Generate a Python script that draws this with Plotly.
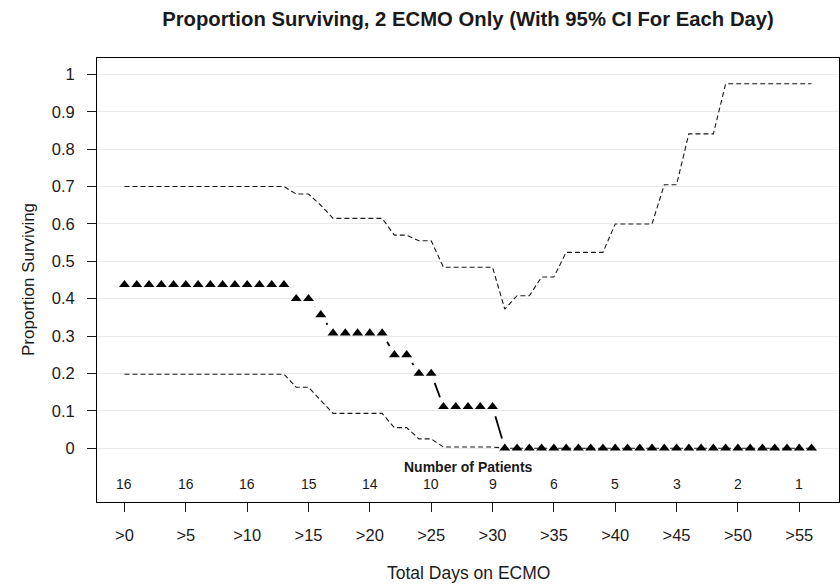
import math
import plotly.graph_objects as go

# Day index (days on ECMO) for each daily estimate
days = [
    0, 1, 2, 3, 4, 5, 6, 7, 8, 9, 10, 11, 12, 13, 14, 15, 16, 17, 18, 19,
    20, 21, 22, 23, 24, 25, 26, 27, 28, 29, 30, 31, 32, 33, 34, 35, 36, 37, 38, 39,
    40, 41, 42, 43, 44, 45, 46, 47, 48, 49, 50, 51, 52, 53, 54, 55, 56,
]

# Proportion surviving among patients still on ECMO at each day
surv_prop = [
    0.4375, 0.4375, 0.4375, 0.4375, 0.4375, 0.4375, 0.4375, 0.4375, 0.4375, 0.4375,
    0.4375, 0.4375, 0.4375, 0.4375, 0.400, 0.400, 0.357, 0.308, 0.308, 0.308,
    0.308, 0.308, 0.250, 0.250, 0.200, 0.200, 0.111, 0.111, 0.111, 0.111,
    0.111, 0.0, 0.0, 0.0, 0.0, 0.0, 0.0, 0.0, 0.0, 0.0,
    0.0, 0.0, 0.0, 0.0, 0.0, 0.0, 0.0, 0.0, 0.0, 0.0,
    0.0, 0.0, 0.0, 0.0, 0.0, 0.0, 0.0,
]

# Upper and lower 95% confidence limits for each day
ci_upper = [
    0.700, 0.700, 0.700, 0.700, 0.700, 0.700, 0.700, 0.700, 0.700, 0.700,
    0.700, 0.700, 0.700, 0.700, 0.680, 0.680, 0.650, 0.615, 0.615, 0.615,
    0.615, 0.615, 0.570, 0.570, 0.555, 0.555, 0.484, 0.484, 0.484, 0.484,
    0.484, 0.372, 0.408, 0.408, 0.458, 0.458, 0.524, 0.524, 0.524, 0.524,
    0.600, 0.600, 0.600, 0.600, 0.705, 0.705, 0.841, 0.841, 0.841, 0.975,
    0.975, 0.975, 0.975, 0.975, 0.975, 0.975, 0.975,
]
ci_lower = [
    0.198, 0.198, 0.198, 0.198, 0.198, 0.198, 0.198, 0.198, 0.198, 0.198,
    0.198, 0.198, 0.198, 0.198, 0.163, 0.163, 0.128, 0.093, 0.093, 0.093,
    0.093, 0.093, 0.055, 0.055, 0.025, 0.025, 0.003, 0.003, 0.003, 0.003,
    0.003, 0.0, 0.0, 0.0, 0.0, 0.0, 0.0, 0.0, 0.0, 0.0,
    0.0, 0.0, 0.0, 0.0, 0.0, 0.0, 0.0, 0.0, 0.0, 0.0,
    0.0, 0.0, 0.0, 0.0, 0.0, 0.0, 0.0,
]

# Axis ticks and the patients-at-risk row
x_tickvals = [0, 5, 10, 15, 20, 25, 30, 35, 40, 45, 50, 55]
x_ticktext = [">0", ">5", ">10", ">15", ">20", ">25", ">30", ">35", ">40", ">45", ">50", ">55"]
n_patients = [16, 16, 16, 15, 14, 10, 9, 6, 5, 3, 2, 1]
y_tickvals = [0, 0.1, 0.2, 0.3, 0.4, 0.5, 0.6, 0.7, 0.8, 0.9, 1.0]
y_ticktext = ["0", "0.1", "0.2", "0.3", "0.4", "0.5", "0.6", "0.7", "0.8", "0.9", "1"]

# Figure geometry
W, H = 840, 584
M_L, M_R, M_T, M_B = 97, 1, 58, 82
X_RANGE = [-2.24, 58.24]
Y_RANGE = [-0.144, 1.044]
FONT = "Liberation Sans, Arial, sans-serif"
INK = "#1a1a1a"

# Connect points like a "both" plot: segments only where the gap between
# markers is long enough, trimmed back from each marker.
sx = (W - M_L - M_R) / (X_RANGE[1] - X_RANGE[0])
sy = (H - M_T - M_B) / (Y_RANGE[1] - Y_RANGE[0])
gap_px = 10.0
seg_x, seg_y = [], []
for i in range(len(days) - 1):
    dx = days[i + 1] - days[i]
    dy = surv_prop[i + 1] - surv_prop[i]
    L = math.hypot(dx * sx, dy * sy)
    if L > 2 * gap_px:
        f = gap_px / L
        seg_x += [days[i] + f * dx, days[i + 1] - f * dx, None]
        seg_y += [surv_prop[i] + f * dy, surv_prop[i + 1] - f * dy, None]

fig = go.Figure()

dash_style = dict(color=INK, width=1.1, dash="5px,3px")
fig.add_trace(go.Scatter(x=days, y=ci_upper, mode="lines", line=dash_style,
                         hoverinfo="skip", showlegend=False))
fig.add_trace(go.Scatter(x=days, y=ci_lower, mode="lines", line=dash_style,
                         hoverinfo="skip", showlegend=False))
fig.add_trace(go.Scatter(x=seg_x, y=seg_y, mode="lines",
                         line=dict(color="black", width=1.8),
                         hoverinfo="skip", showlegend=False))
fig.add_trace(go.Scatter(x=days, y=surv_prop, mode="markers",
                         marker=dict(symbol="triangle-up", size=9.5, color="black",
                                     line=dict(width=0)),
                         showlegend=False))

annotations = [
    dict(text="<b>Number of Patients</b>", x=28, y=-0.051, xref="x", yref="y",
         showarrow=False, font=dict(family=FONT, size=14, color=INK),
         xanchor="center", yanchor="middle"),
    dict(text="Proportion Surviving", x=0, y=0.5, xref="paper", yref="paper",
         xshift=-69, textangle=-90, showarrow=False,
         font=dict(family=FONT, size=17, color=INK),
         xanchor="center", yanchor="middle"),
    dict(text="Total Days on ECMO", x=0.5, y=0, xref="paper", yref="paper",
         yshift=-71, showarrow=False,
         font=dict(family=FONT, size=17.5, color=INK),
         xanchor="center", yanchor="middle"),
]
for xv, n in zip(x_tickvals, n_patients):
    annotations.append(dict(text=str(n), x=xv, y=-0.095, xref="x", yref="y",
                            showarrow=False, font=dict(family=FONT, size=14, color=INK),
                            xanchor="center", yanchor="middle"))

fig.update_layout(
    width=W, height=H,
    margin=dict(l=M_L, r=M_R, t=M_T, b=M_B, pad=0),
    paper_bgcolor="white", plot_bgcolor="white",
    title=dict(text="<b>Proportion Surviving, 2 ECMO Only (With 95% CI For Each Day)</b>",
               x=0.5, xref="paper", xanchor="center",
               y=1 - 19 / H, yref="container", yanchor="middle",
               font=dict(family=FONT, size=20.3, color=INK)),
    annotations=annotations,
    xaxis=dict(range=X_RANGE, tickvals=x_tickvals, ticktext=x_ticktext,
               ticks="outside", ticklen=9, tickcolor=INK, tickwidth=1,
               ticklabelstandoff=9,
               showgrid=False, zeroline=False,
               showline=True, linecolor="black", linewidth=1, mirror=True,
               tickfont=dict(family=FONT, size=16.5, color=INK)),
    yaxis=dict(range=Y_RANGE, tickvals=y_tickvals, ticktext=y_ticktext,
               ticks="outside", ticklen=9, tickcolor=INK, tickwidth=1,
               ticklabelstandoff=9,
               showgrid=True, gridcolor="#eaeaea", gridwidth=1, zeroline=False,
               showline=True, linecolor="black", linewidth=1, mirror=True,
               tickfont=dict(family=FONT, size=16.5, color=INK)),
)

fig.write_html("out.html")
